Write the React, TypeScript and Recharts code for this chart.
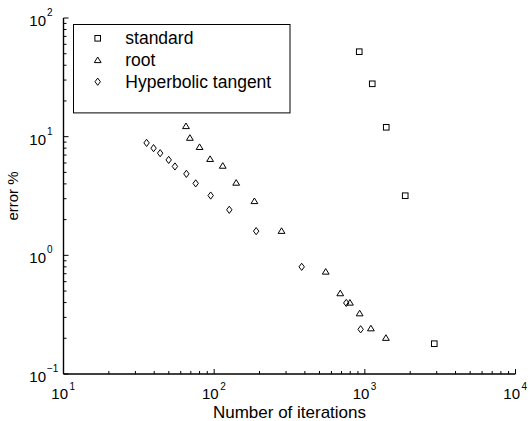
import React from 'react';
import { ScatterChart, Scatter, XAxis, YAxis } from 'recharts';

// iterations (x) and error % (y)
const standardIters = [918, 1120, 1387, 1854, 2890];
const standardErr = [52.0, 27.9, 12.0, 3.18, 0.18];

const rootIters = [65, 69, 80, 94, 114, 140, 185, 280, 550, 687, 796, 924, 1097, 1380];
const rootErr = [12.3, 9.8, 8.2, 6.5, 5.7, 4.1, 2.87, 1.61, 0.73, 0.48, 0.4, 0.325, 0.243, 0.202];

const tanhIters = [35.6, 39.6, 43.8, 49.9, 54.9, 65.4, 75.4, 94.8, 126, 190, 381, 753, 938];
const tanhErr = [8.86, 8.0, 7.26, 6.37, 5.61, 4.86, 4.04, 3.19, 2.42, 1.6, 0.8, 0.397, 0.238];

const xDecades = [1, 2, 3, 4]; // 10^1 .. 10^4
const yDecades = [-1, 0, 1, 2]; // 10^-1 .. 10^2
const steps = [1, 2, 3, 4, 5, 6, 7, 8, 9];

const FONT = '"Liberation Sans", Arial, Helvetica, sans-serif';

const logTicks = (decades: number[]) => {
  const out: number[] = [];
  decades.slice(0, -1).forEach((d) => steps.forEach((s) => out.push(Number((s * Math.pow(10, d)).toPrecision(3)))));
  out.push(Math.pow(10, decades[decades.length - 1]));
  return out;
};
const xTicks = logTicks(xDecades);
const yTicks = logTicks(yDecades);

const toPoints = (xs: number[], ys: number[]) => xs.map((x, i) => ({ x, y: ys[i] }));

const Square = ({ cx, cy }: any) => (
  <rect x={cx - 2.8} y={cy - 2.8} width={5.6} height={5.6} fill="none" stroke="#000" strokeWidth={1} />
);
const Triangle = ({ cx, cy }: any) => (
  <polygon
    points={`${cx},${cy - 3} ${cx + 3.4},${cy + 2.6} ${cx - 3.4},${cy + 2.6}`}
    fill="none"
    stroke="#000"
    strokeWidth={1}
  />
);
const Diamond = ({ cx, cy }: any) => (
  <polygon
    points={`${cx},${cy - 3.6} ${cx + 2.7},${cy} ${cx},${cy + 3.6} ${cx - 2.7},${cy}`}
    fill="none"
    stroke="#000"
    strokeWidth={1}
  />
);

const series = [
  { name: 'standard', data: toPoints(standardIters, standardErr), Shape: Square },
  { name: 'root', data: toPoints(rootIters, rootErr), Shape: Triangle },
  { name: 'Hyperbolic tangent', data: toPoints(tanhIters, tanhErr), Shape: Diamond },
];

const isMajor = (v: number) => Math.abs(Math.log10(v) - Math.round(Math.log10(v))) < 1e-6;

const XTick = ({ x, y, payload, side }: any) => {
  const v = payload.value;
  const major = isMajor(v);
  const len = major ? 5 : 3;
  const dir = side === 'bottom' ? -1 : 1;
  return (
    <g>
      <line x1={x} y1={y} x2={x} y2={y + dir * len} stroke="#000" strokeWidth={1} />
      {side === 'bottom' && major && (
        <g fontFamily={FONT} fill="#000">
          <text x={x + 4.5} y={y + 25} fontSize={15} textAnchor="end">10</text>
          <text x={x + 6} y={y + 16} fontSize={10}>{Math.round(Math.log10(v))}</text>
        </g>
      )}
    </g>
  );
};

const YTick = ({ x, y, payload, side }: any) => {
  const v = payload.value;
  const major = isMajor(v);
  const len = major ? 5 : 3;
  const dir = side === 'left' ? 1 : -1;
  const e = Math.round(Math.log10(v));
  return (
    <g>
      <line x1={x} y1={y} x2={x + dir * len} y2={y} stroke="#000" strokeWidth={1} />
      {side === 'left' && major && (
        <g fontFamily={FONT} fill="#000">
          <text x={x - 17.5} y={y + 8} fontSize={15} textAnchor="end">10</text>
          <text x={x - 16.5} y={y - 2} fontSize={10}>{e < 0 ? `\u2212${-e}` : e}</text>
        </g>
      )}
    </g>
  );
};

const axisLine = { stroke: '#000', strokeWidth: 1.4 };

const App = () => {
  return (
    <div style={{ position: 'absolute', left: 0, top: 0, width: 530, height: 421, background: '#fff' }}>
      <ScatterChart width={530} height={421} margin={{ top: 18, right: 14.5, bottom: 0, left: 0 }}>
        <XAxis
          xAxisId="bottom"
          dataKey="x"
          type="number"
          scale="log"
          domain={[10, 10000]}
          allowDataOverflow
          ticks={xTicks}
          interval={0}
          height={47}
          tickSize={0}
          tickMargin={0}
          tickLine={false}
          axisLine={axisLine}
          tick={<XTick side="bottom" />}
          label={{
            content: () => (
              <text x={289.5} y={417.5} textAnchor="middle" fontFamily={FONT} fontSize={17} fill="#000">
                Number of iterations
              </text>
            ),
          }}
        />
        <XAxis
          xAxisId="top"
          orientation="top"
          type="number"
          scale="log"
          domain={[10, 10000]}
          allowDataOverflow
          ticks={xTicks}
          interval={0}
          height={0}
          tickSize={0}
          tickMargin={0}
          tickLine={false}
          axisLine={axisLine}
          tick={<XTick side="top" />}
        />
        <YAxis
          yAxisId="left"
          dataKey="y"
          type="number"
          scale="log"
          domain={[0.1, 100]}
          allowDataOverflow
          ticks={yTicks}
          interval={0}
          width={63.5}
          tickSize={0}
          tickMargin={0}
          tickLine={false}
          axisLine={axisLine}
          tick={<YTick side="left" />}
          label={{
            content: () => (
              <text
                x={18}
                y={196}
                transform="rotate(-90 18 196)"
                textAnchor="middle"
                fontFamily={FONT}
                fontSize={15}
                fill="#000"
              >
                error %
              </text>
            ),
          }}
        />
        <YAxis
          yAxisId="right"
          orientation="right"
          type="number"
          scale="log"
          domain={[0.1, 100]}
          allowDataOverflow
          ticks={yTicks}
          interval={0}
          width={0}
          tickSize={0}
          tickMargin={0}
          tickLine={false}
          axisLine={axisLine}
          tick={<YTick side="right" />}
        />
        {series.map((s) => (
          <Scatter
            key={s.name}
            name={s.name}
            data={s.data}
            xAxisId="bottom"
            yAxisId="left"
            shape={<s.Shape />}
            isAnimationActive={false}
          />
        ))}
      </ScatterChart>
      <svg
        width={218}
        height={90}
        style={{ position: 'absolute', left: 73, top: 24 }}
      >
        <rect x={0.5} y={0.5} width={216.5} height={88.4} fill="#fff" stroke="#000" strokeWidth={1} />
        {series.map((s, i) => (
          <g key={s.name}>
            <s.Shape cx={24.7} cy={14.3 + i * 21.7} />
            <text x={52.3} y={14.3 + i * 21.7 + 6} fontFamily={FONT} fontSize={17.5} fill="#000">
              {s.name}
            </text>
          </g>
        ))}
      </svg>
    </div>
  );
};

export default App;
